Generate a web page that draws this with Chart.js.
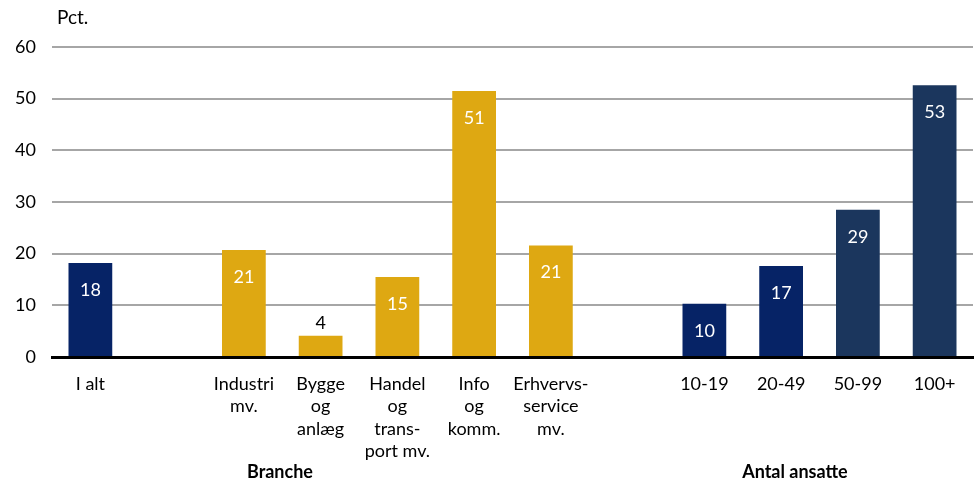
<!DOCTYPE html>
<html>
<head>
<meta charset="utf-8">
<script src="https://cdn.jsdelivr.net/npm/chart.js@4"></script>
<style>
  html, body { margin: 0; padding: 0; background: #fff; }
  #wrap { width: 978px; height: 486px; }
</style>
</head>
<body>
<div id="wrap"><canvas id="chart" width="978" height="486"></canvas></div>
<script>
// categories (multi-line), empty slots are the gaps between groups
const categories = [
  ['I alt'], [''],
  ['Industri', 'mv.'], ['Bygge', 'og', 'anlæg'], ['Handel', 'og', 'trans-', 'port mv.'],
  ['Info', 'og', 'komm.'], ['Erhvervs-', 'service', 'mv.'], [''],
  ['10-19'], ['20-49'], ['50-99'], ['100+']
];
const values = [18.2, null, 20.7, 4.1, 15.5, 51.5, 21.6, null, 10.3, 17.6, 28.5, 52.6];
const valueLabels = ['18', '', '21', '4', '15', '51', '21', '', '10', '17', '29', '53'];
const barColors = ['#062366', '#fff', '#dea812', '#dea812', '#dea812', '#dea812', '#dea812', '#fff',
  '#062366', '#062366', '#1b365d', '#1b365d'];
const yTicks = [0, 10, 20, 30, 40, 50, 60];
const groups = [
  { text: 'Branche', pos: 2.47 },
  { text: 'Antal ansatte', pos: 9.18 }
];

const FONT = 'Lato, "Open Sans", sans-serif';

const extras = {
  id: 'extras',
  afterDatasetsDraw(chart) {
    const ctx = chart.ctx;
    const meta = chart.getDatasetMeta(0);
    ctx.save();
    ctx.font = '18px ' + FONT;
    ctx.textAlign = 'center';
    ctx.textBaseline = 'middle';
    meta.data.forEach((bar, i) => {
      if (values[i] == null) return;
      if (values[i] < 6) {
        ctx.fillStyle = '#000';
        ctx.fillText(valueLabels[i], bar.x, bar.y - 13);
      } else {
        ctx.fillStyle = '#fff';
        ctx.fillText(valueLabels[i], bar.x, bar.y + 27);
      }
    });
    // unit label
    ctx.fillStyle = '#000';
    ctx.textAlign = 'left';
    ctx.font = '19px ' + FONT;
    ctx.fillText('Pct.', 57, 18);
    // group titles
    ctx.font = 'bold 18px ' + FONT;
    ctx.textAlign = 'center';
    const xs = chart.scales.x;
    groups.forEach(g => ctx.fillText(g.text, xs.getPixelForValue(g.pos), 472));
    ctx.restore();
  }
};

new Chart(document.getElementById('chart'), {
  type: 'bar',
  data: {
    labels: categories,
    datasets: [{
      data: values,
      backgroundColor: barColors,
      barPercentage: 0.57,
      categoryPercentage: 1
    }]
  },
  options: {
    responsive: false,
    animation: false,
    layout: { padding: { top: 47, right: 5, left: 0, bottom: 0 } },
    plugins: { legend: { display: false }, tooltip: { enabled: false } },
    scales: {
      x: {
        grid: { display: false },
        border: { color: '#000', width: 3 },
        ticks: {
          color: '#000', font: { family: FONT, size: 18, lineHeight: 1.24 },
          autoSkip: false, maxRotation: 0, padding: 8
        },
        afterFit(scale) { scale.height = 129; }
      },
      y: {
        min: 0, max: 60,
        afterBuildTicks(scale) { scale.ticks = yTicks.map(v => ({ value: v })); },
        afterFit(scale) { scale.width = 52; },
        border: { display: false },
        grid: {
          drawTicks: false,
          lineWidth: 2,
          color: ctx => ctx.tick && ctx.tick.value === 0 ? 'rgba(0,0,0,0)' : '#a6a6a6'
        },
        ticks: { color: '#000', font: { family: FONT, size: 18 }, padding: 16 }
      }
    }
  },
  plugins: [extras]
});
</script>
</body>
</html>
